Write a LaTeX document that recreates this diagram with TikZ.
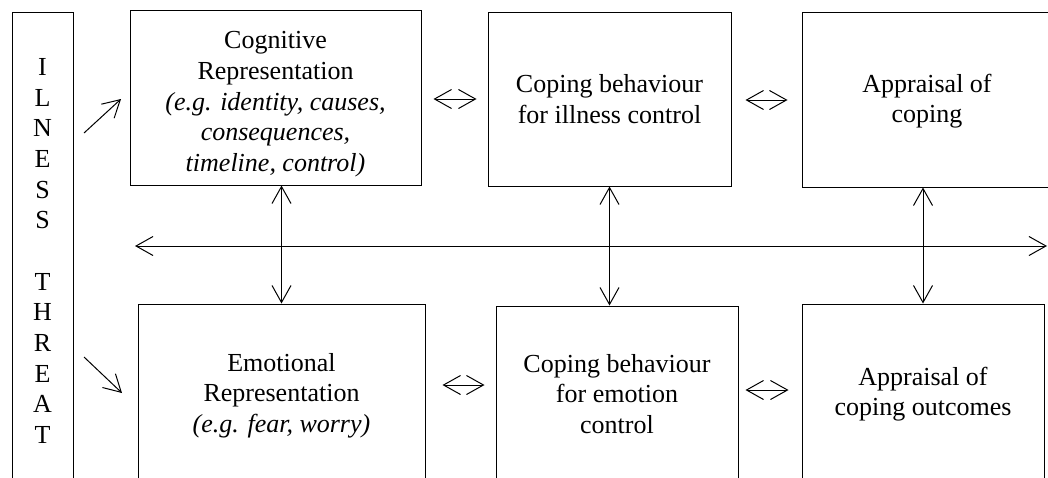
\documentclass[tikz,border=0pt]{standalone}
\usepackage{fontspec}
\setmainfont{Liberation Serif}
\usetikzlibrary{arrows.meta}
\begin{document}
\begin{tikzpicture}[x=1pt,y=-1pt,line width=1pt,
  box/.style={draw, rectangle, inner sep=0pt, align=center,
    font=\fontsize{26}{30.5}\selectfont},
  letters/.style={draw, rectangle, inner sep=0pt, align=center,
    font=\fontsize{26}{30.67}\selectfont},
  arr/.style={-{Straight Barb[length=17pt,width=19pt]}},
  darr/.style={{Straight Barb[length=17pt,width=19pt]}-{Straight Barb[length=17pt,width=19pt]}}]
\useasboundingbox (0,0) rectangle (1048,477);
\fill[white] (0,0) rectangle (1048,477);
\clip (0,0) rectangle (1048,477);

% boxes
\node[letters, minimum width=61pt, minimum height=478pt] (ill) at (42.5,251)
  {I\\L\\N\\E\\S\\S\\[30.67pt]T\\H\\R\\E\\A\\T};
\node[box, minimum width=291pt, minimum height=175pt, font=\fontsize{26}{30.7}\selectfont] (cog) at (275.5,97.5)
  {\rule{0pt}{31pt}Cognitive\\Representation\\\textit{(e.g. identity, causes,}\\\textit{consequences,}\\\textit{timeline, control)}};
\node[box, minimum width=243pt, minimum height=174pt] (copi) at (609.5,99)
  {Coping behaviour\\for illness control};
\node[box, minimum width=250pt, minimum height=175pt] (appc) at (927,99.5)
  {\rule{0pt}{22pt}Appraisal of\\coping};
\node[box, minimum width=287pt, minimum height=178pt] (emo) at (281.5,393)
  {\rule{0pt}{23pt}Emotional\\Representation\\\textit{(e.g. fear, worry)}};
\node[box, minimum width=242pt, minimum height=176pt] (cope) at (617,394)
  {Coping behaviour\\for emotion\\control};
\node[box, minimum width=242pt, minimum height=178pt] (appo) at (923,393)
  {\rule{0pt}{21pt}Appraisal of\\coping outcomes};

% free ends
\coordinate (d1s) at (84,133);
\coordinate (d1e) at (121,99);
\coordinate (d2s) at (84,357);
\coordinate (d2e) at (122,393);
\coordinate (hl) at (135,246);
\coordinate (hr) at (1047,246);

% connectors
\draw[arr] (d1s) -- (d1e);
\draw[arr] (d2s) -- (d2e);
\draw[darr] (hl) -- (hr);
\draw[darr] ([xshift=12pt]cog.east |- copi.west) -- ([xshift=-11pt]copi.west);
\draw[darr] ([xshift=14pt,yshift=-1pt]copi.east) -- ([xshift=-14pt,yshift=-1pt]appc.west |- copi.east);
\draw[darr] ([xshift=17pt,yshift=8pt]emo.east) -- ([xshift=-11pt,yshift=8pt]cope.west |- emo.east);
\draw[darr] ([xshift=7pt,yshift=4pt]cope.east) -- ([xshift=-13pt,yshift=4pt]appo.west |- cope.east);
\draw[darr] (emo.north) -- (emo.north |- cog.south);
\draw[darr] (copi.south) -- (copi.south |- cope.north);
\draw[darr] (appo.north) -- (appo.north |- appc.south);
\end{tikzpicture}
\end{document}
